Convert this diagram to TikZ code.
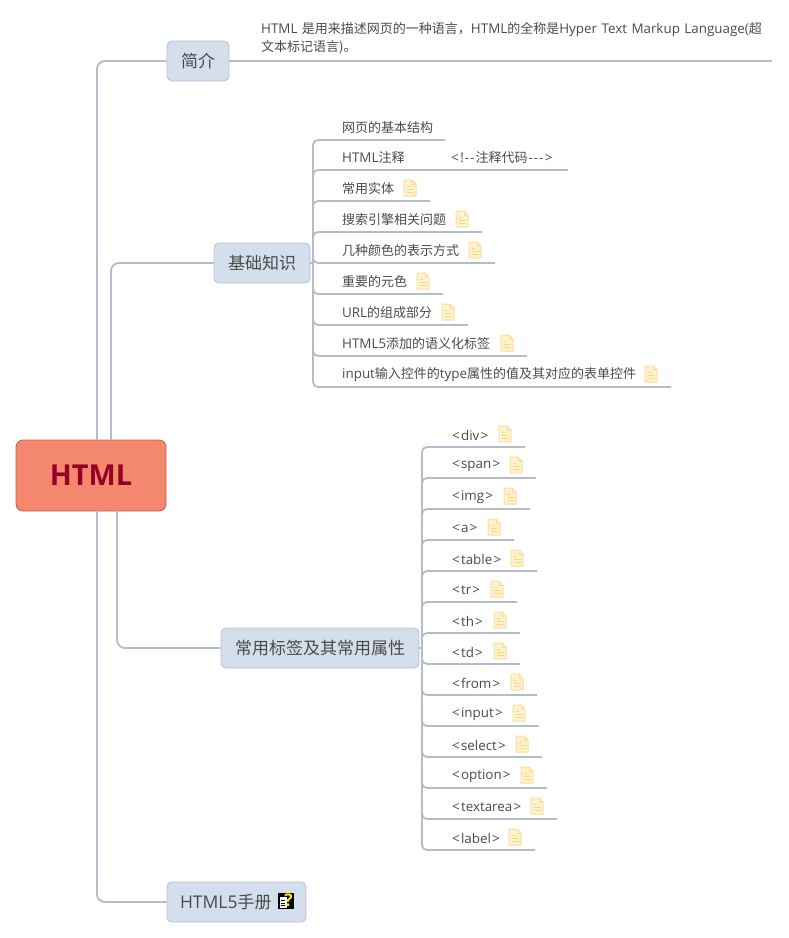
\documentclass[tikz,border=0pt]{standalone}
\usepackage{fontspec}
\setmainfont[Scale=1.03]{Open Sans}
\newfontfamily\cjk{Noto Sans CJK SC}
\newcommand{\zh}[1]{{\cjk #1}}
\newcommand{\tg}[1]{<\kern1.2pt #1\kern1.2pt>}
\definecolor{linec}{HTML}{B4BCCB}
\definecolor{boxf}{HTML}{D4DEED}
\definecolor{boxd}{HTML}{B6BFD0}
\definecolor{txt}{HTML}{4A4A4A}
\definecolor{noted}{HTML}{FBDD9A}
\definecolor{notef}{HTML}{FFF3CF}
\definecolor{notel}{HTML}{F9D87F}
\tikzset{
  conn/.style={draw=linec,line width=1.8pt,rounded corners=8pt},
  under/.style={draw=linec,line width=1.8pt,rounded corners=5pt},
  topic/.style={draw=boxd,fill=boxf,line width=0.8pt,rounded corners=5pt,inner sep=0pt,
    minimum height=40pt,text=txt,font=\fontsize{17}{20}\selectfont},
  leaf/.style={anchor=west,inner sep=0pt,yshift=-1pt,text=txt,font=\fontsize{13}{16}\selectfont},
  notepic/.pic={
    \draw[draw=noted,fill=notef,line width=1pt,line join=round]
      (-6,-8) -- (2,-8) -- (6,-4) -- (6,8) -- (-6,8) -- cycle;
    \draw[draw=noted,line width=0.8pt] (2,-8) -- (2,-4) -- (6,-4);
    \draw[draw=notel,line width=1.3pt] (-3.5,-1.5) -- (0,-1.5) (-3.5,1.5) -- (3.5,1.5) (-3.5,4.5) -- (3.5,4.5);
  }
}
\newcommand{\leafitem}[7]{%
  % name, text x, text y, text, line end x, icon x (or empty), spine x
  \node[leaf] (#1) at (#2,#3) {#4};
  \coordinate (#1e) at (#5,#3+13);
  \ifx\relax#6\relax\else\pic at (#6,#3) {notepic};\fi
  \coordinate (#1s) at (#7,#3+13);
}
\begin{document}
\begin{tikzpicture}[x=1pt,y=-1pt]
\useasboundingbox (0,0) rectangle (789,938);
% topics
\node[draw={rgb,255:red,205;green,90;blue,70},fill={rgb,255:red,243;green,136;blue,111},line width=0.8pt,rounded corners=7pt,
  minimum width=150pt,minimum height=71pt,inner sep=0pt,text={rgb,255:red,150;green,0;blue,38},font=\fontsize{28}{30}\selectfont\bfseries] (root) at (91,475.5) {HTML};
\node[topic,minimum width=62pt] (intro) at (198,61) {\zh{简介}};
\node[topic,minimum width=96pt] (basic) at (262,263) {\zh{基础知识}};
\node[topic,minimum width=198pt] (tags) at (320,648) {\zh{常用标签及其常用属性}};
\node[topic,minimum width=139pt,anchor=center,text width=113pt,align=left] (manual) at (236.5,902) {HTML5\zh{手册}};
% help icon
\fill[black] (278,893) rectangle (294,909);
\fill[white] (279.5,897) -- (287,897) -- (287,908) -- (279.5,908) -- cycle;
\draw[black,line width=0.8pt] (281,900.5) -- (285,900.5) (281,903) -- (285,903) (281,905.5) -- (285,905.5);
\node[inner sep=0pt,text={rgb,255:red,255;green,235;blue,0},font=\fontsize{17}{17}\selectfont\bfseries] at (288.5,900.5) {?};
% intro note
\node[anchor=north west,inner sep=0pt,text width=510pt,align=left,text=txt,font=\fontsize{13}{17.5}\selectfont] (introtext) at (261,22.5)
  {HTML \zh{是用来描述网页的一种语言，}HTML\zh{的全称是}Hyper Text Markup Language(\zh{超}\\\zh{文本标记语言)。}};
\coordinate (introend) at (772,61);
\draw[conn] (intro.east) -- (introend);
% root connectors
\coordinate (r1) at (97,440);
\coordinate (r2) at (111,440);
\coordinate (r3) at (117,511);
\coordinate (r4) at (97,511);
\draw[conn] (r1) |- (intro.west);
\draw[conn] (r2) |- (basic.west);
\draw[conn] (r3) |- (tags.west);
\draw[conn] (r4) |- (manual.west);
% basic leaves
\leafitem{a}{342}{127}{\zh{网页的基本结构}}{445}{}{313}
\leafitem{b}{342}{157}{HTML\zh{注释}}{568}{}{313}
\node[leaf] (b2) at (451,157) {<\kern1.5pt!\kern1pt-\kern1pt-\kern1pt\zh{注释代码}\kern1pt-\kern1pt-\kern1pt-\kern1.5pt>};
\leafitem{c}{342}{188}{\zh{常用实体}}{430}{410}{313}
\leafitem{d}{342}{219}{\zh{搜索引擎相关问题}}{482}{462}{313}
\leafitem{e}{342}{250}{\zh{几种颜色的表示方式}}{495}{475}{313}
\leafitem{f}{342}{281}{\zh{重要的元色}}{443}{423}{313}
\leafitem{g}{342}{312}{URL\zh{的组成部分}}{468}{448}{313}
\leafitem{h}{342}{343}{HTML5\zh{添加的语义化标签}}{527}{507}{313}
\leafitem{i}{342}{374}{input\zh{输入控件的}type\zh{属性的值及其对应的表单控件}}{671}{651}{313}
\coordinate (bsp) at (313,263);
\draw[under] (basic.east) -- (bsp);
\foreach \n in {a,b,c,d,e,f,g,h,i}{ \draw[under] (bsp) |- (\n e); }
% tag leaves
\leafitem{t1}{452}{434}{\tg{div}}{525}{505}{422}
\leafitem{t2}{452}{465}{\tg{span}}{536}{516}{422}
\leafitem{t3}{452}{496}{\tg{img}}{530}{510}{422}
\leafitem{t4}{452}{527}{\tg{a}}{514}{494}{422}
\leafitem{t5}{452}{558}{\tg{table}}{537}{517}{422}
\leafitem{t6}{452}{589}{\tg{tr}}{517}{497}{422}
\leafitem{t7}{452}{620}{\tg{th}}{520}{500}{422}
\leafitem{t8}{452}{651}{\tg{td}}{520}{500}{422}
\leafitem{t9}{452}{682}{\tg{from}}{537}{517}{422}
\leafitem{t10}{452}{713}{\tg{input}}{539}{519}{422}
\leafitem{t11}{452}{744}{\tg{select}}{542}{522}{422}
\leafitem{t12}{452}{775}{\tg{option}}{547}{527}{422}
\leafitem{t13}{452}{806}{\tg{textarea}}{557}{537}{422}
\leafitem{t14}{452}{837}{\tg{label}}{535}{515}{422}
\coordinate (tsp) at (422,648);
\draw[under] (tags.east) -- (tsp);
\foreach \n in {1,...,14}{ \draw[under] (tsp) |- (t\n e); }
\end{tikzpicture}
\end{document}
